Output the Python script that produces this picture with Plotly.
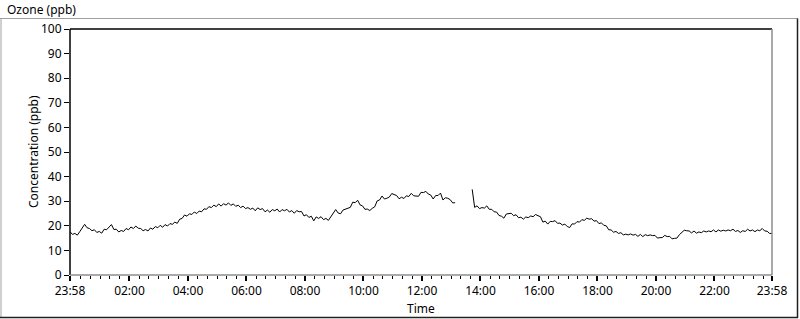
import plotly.graph_objects as go

# ---- data ----
start_minute = -2          # 23:58 of the previous day
step_minutes = 5
ozone_ppb = [
    17.6, 16.5, 16.9, 16.2, 17.6, 19.1, 20.6, 19.2, 18.9, 18.0,
    18.4, 17.3, 17.7, 17.0, 18.6, 18.4, 19.6, 20.5, 18.5, 18.6,
    17.5, 18.1, 17.7, 18.9, 18.4, 19.5, 18.9, 19.9, 19.0, 18.9,
    18.0, 18.5, 17.9, 19.1, 18.6, 19.7, 19.2, 20.2, 19.4, 20.5,
    19.9, 20.9, 20.6, 21.5, 21.0, 22.7, 23.0, 24.4, 23.9, 24.9,
    24.6, 25.6, 25.0, 26.0, 25.7, 26.9, 26.7, 27.8, 27.4, 28.4,
    27.8, 28.9, 28.0, 29.0, 28.4, 29.3, 28.3, 28.9, 27.9, 28.4,
    27.4, 28.0, 27.0, 27.4, 26.7, 27.2, 26.1, 27.3, 26.6, 27.0,
    25.7, 26.4, 25.5, 26.6, 26.1, 26.8, 25.6, 26.6, 26.1, 26.7,
    25.6, 26.2, 25.1, 26.2, 25.7, 25.8, 24.0, 24.5, 23.4, 23.9,
    22.0, 23.6, 23.0, 23.7, 22.5, 23.0, 22.2, 23.6, 25.1, 26.6,
    25.2, 24.9, 26.4, 26.8, 26.9, 27.5, 29.6, 29.4, 30.4, 28.5,
    28.1, 26.7, 26.8, 26.2, 27.1, 27.7, 30.1, 30.5, 32.1, 30.9,
    31.2, 31.7, 33.1, 32.6, 32.3, 31.0, 31.6, 31.1, 32.2, 31.9,
    33.2, 32.2, 32.1, 32.0, 33.6, 33.5, 34.0, 32.9, 32.5, 30.9,
    32.3, 32.3, 33.3, 30.5, 31.4, 31.2, 30.6, 29.3, 29.4,
    None, None, None, None, None, None,
    34.8, 27.5, 28.1, 27.0, 27.4,
    27.2, 28.1, 26.7, 26.7, 25.7, 25.6, 24.2, 23.9, 23.1, 24.8,
    25.0, 25.1, 24.1, 24.5, 23.3, 23.5, 22.7, 23.6, 23.3, 24.0,
    23.7, 24.6, 24.1, 23.7, 21.5, 21.9, 20.7, 21.8, 21.7, 22.1,
    21.0, 21.1, 20.3, 20.7, 19.7, 19.3, 20.8, 20.7, 21.7, 21.5,
    22.5, 22.2, 23.1, 22.7, 22.9, 21.9, 22.1, 20.9, 21.2, 20.2,
    20.0, 18.4, 18.3, 17.4, 17.7, 16.9, 17.2, 16.3, 16.6, 16.3,
    16.7, 16.2, 16.5, 15.7, 16.5, 15.6, 16.4, 16.0, 16.3, 16.0,
    16.1, 15.0, 15.2, 15.2, 16.1, 15.6, 15.7, 14.7, 14.9, 15.0,
    16.4, 17.2, 18.2, 18.0, 17.9, 17.1, 17.9, 17.0, 17.5, 17.2,
    17.9, 17.5, 17.9, 17.6, 18.3, 17.5, 18.3, 17.8, 18.2, 17.9,
    18.3, 18.0, 18.6, 17.7, 18.1, 17.3, 18.0, 17.7, 18.6, 17.9,
    18.3, 17.6, 18.3, 18.0, 18.9, 17.9, 17.8, 16.9, 16.9,
]
minutes = [start_minute + i * step_minutes for i in range(len(ozone_ppb))]

x_tick_values = [-2, 120, 240, 360, 480, 600, 720, 840, 960, 1080, 1200, 1320, 1438]
x_tick_labels = ["23:58", "02:00", "04:00", "06:00", "08:00", "10:00", "12:00",
                 "14:00", "16:00", "18:00", "20:00", "22:00", "23:58"]
y_tick_values = [0, 10, 20, 30, 40, 50, 60, 70, 80, 90, 100]

FONT = "Noto Sans"
W, H = 800, 319
L, R, T, B = 70, 772, 29, 275  # plot area in pixels


def px(xp):
    return (xp - L) / (R - L)


def py(yp):
    return (B - yp) / (B - T)


fig = go.Figure()
fig.add_trace(go.Scatter(
    x=minutes, y=ozone_ppb, mode="lines",
    line=dict(color="black", width=1),
    connectgaps=False, hoverinfo="skip", showlegend=False,
))

shapes = []
# outer frame
shapes.append(dict(type="line", xref="paper", yref="paper", x0=px(0), x1=px(798), y0=py(18.5), y1=py(18.5),
                   line=dict(color="#a0a0a0", width=1)))
shapes.append(dict(type="line", xref="paper", yref="paper", x0=px(1), x1=px(1), y0=py(18.5), y1=py(317),
                   line=dict(color="#a0a0a0", width=1)))
shapes.append(dict(type="line", xref="paper", yref="paper", x0=px(0), x1=px(798), y0=py(317.5), y1=py(317.5),
                   line=dict(color="#202020", width=1.5)))
shapes.append(dict(type="line", xref="paper", yref="paper", x0=px(797.5), x1=px(797.5), y0=py(18.5), y1=py(318),
                   line=dict(color="#202020", width=1.5)))
# plot area frame
shapes.append(dict(type="line", xref="paper", yref="paper", x0=0, x1=0, y0=0, y1=1,
                   line=dict(color="black", width=1.5)))
shapes.append(dict(type="line", xref="paper", yref="paper", x0=0, x1=1, y0=1, y1=1,
                   line=dict(color="black", width=1.5)))
shapes.append(dict(type="line", xref="paper", yref="paper", x0=1, x1=1, y0=0, y1=1,
                   line=dict(color="#8c8c8c", width=1.5)))
shapes.append(dict(type="line", xref="paper", yref="paper", x0=0, x1=1, y0=0, y1=0,
                   line=dict(color="#8c8c8c", width=1.5)))

annotations = [
    dict(text="Ozone (ppb)", xref="paper", yref="paper", x=px(5), y=py(9.5),
         xanchor="left", yanchor="middle", showarrow=False,
         font=dict(family=FONT, size=12, color="black")),
    dict(text="Time", xref="paper", yref="paper", x=px(421), y=py(308),
         xanchor="center", yanchor="middle", showarrow=False,
         font=dict(family=FONT, size=12, color="black")),
    dict(text="Concentration (ppb)", xref="paper", yref="paper", x=px(33), y=py(152),
         xanchor="center", yanchor="middle", showarrow=False, textangle=-90,
         font=dict(family=FONT, size=12, color="black")),
]

fig.update_layout(
    width=W, height=H, autosize=False,
    margin=dict(l=L, r=W - R, t=T, b=H - B, pad=0),
    paper_bgcolor="white", plot_bgcolor="white",
    font=dict(family=FONT, size=12, color="black"),
    shapes=shapes, annotations=annotations,
    showlegend=False,
)
fig.update_xaxes(
    range=[-2, 1438], showgrid=False, zeroline=False, showline=False,
    tickmode="array", tickvals=x_tick_values, ticktext=x_tick_labels,
    ticks="outside", ticklen=5, tickwidth=1.5, tickcolor="black",
    tickfont=dict(family=FONT, size=12, color="black"),
    minor=dict(tickmode="linear", tick0=0, dtick=20, ticks="outside",
               ticklen=3, tickwidth=1, tickcolor="black", showgrid=False),
)
fig.update_yaxes(
    range=[0, 100], showgrid=False, zeroline=False, showline=False,
    tickmode="array", tickvals=y_tick_values,
    ticks="outside", ticklen=5, tickwidth=1, tickcolor="black",
    tickfont=dict(family=FONT, size=12, color="black"),
)

fig.write_html(
    "out.html",
    config={"displayModeBar": False},
    post_script="document.body.style.margin='0px';document.body.style.overflow='hidden';",
)
